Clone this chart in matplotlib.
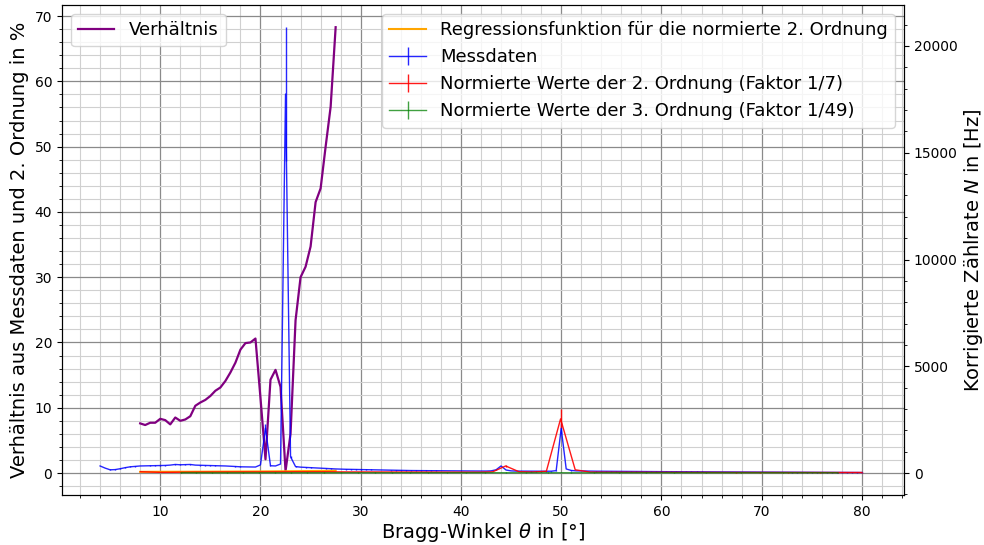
import numpy as np
import matplotlib
matplotlib.use("Agg")
import matplotlib.pyplot as plt

# Messdaten (Zaehlrate in Hz) auf dem Winkelraster 4..80 Grad, Schritt 0.5
theta_mess = np.arange(4.0, 80.5, 0.5)
n_mess = [
    330, 230, 150, 160, 200, 250, 290, 310, 330, 335,
    340, 345, 345, 355, 370, 400, 385, 395, 400, 370,
    360, 355, 350, 345, 335, 330, 320, 305, 290, 285,
    280, 280, 380, 2100, 340, 330, 420, 17750, 760, 300,
    275, 260, 250, 240, 230, 215, 200, 190, 180, 175,
    170, 165, 160, 155, 150, 145, 140, 135, 130, 125,
    120, 118, 115, 113, 110, 108, 105, 103, 100, 100,
    98, 97, 96, 95, 95, 94, 93, 92, 100, 150,
    330, 140, 100, 90, 88, 86, 85, 84, 83, 83,
    85, 110, 2090, 190, 120, 100, 95, 90, 88, 85,
    83, 80, 78, 76, 75, 73, 72, 70, 68, 67,
    66, 65, 64, 63, 62, 61, 60, 59, 58, 57,
    56, 55, 54, 53, 52, 51, 50, 49, 48, 47,
    46, 45, 44, 43, 42, 41, 40, 39, 38, 37,
    36, 35, 34, 33, 32, 31, 30, 29, 28, 27,
    26, 25, 24,
]
mess_err_default = 15
mess_err_theta = [20.5, 22.5, 23.0, 50.0]
mess_err_vals = [200, 3140, 60, 250]

# normierte 2. Ordnung (Faktor 1/7)
theta_2 = [8.02, 9.03, 10.04, 11.05, 12.07, 13.09, 14.11, 15.13, 16.16, 17.20,
           18.23, 19.27, 20.32, 21.38, 22.43, 23.50, 24.57, 25.65, 26.74, 27.83,
           28.93, 30.05, 31.17, 32.31, 33.45, 34.61, 35.79, 36.97, 38.17, 39.39,
           40.63, 41.88, 43.16, 44.46, 45.79, 47.14, 48.52, 49.94, 51.40, 52.90,
           54.44, 56.04, 57.69, 59.43, 61.25, 63.17, 65.23, 67.45, 69.88, 72.63,
           75.85, 79.99]
n_2 = [60, 45, 30, 32, 38, 42, 45, 47, 49, 50,
       51, 51, 51, 52, 53, 57, 55, 56, 57, 53,
       51, 51, 50, 49, 48, 47, 46, 44, 41, 41,
       40, 40, 54, 330, 60, 47, 80, 2536, 150, 43,
       39, 37, 36, 34, 33, 31, 29, 27, 26, 25,
       24, 24]
err_2_default = 5
err_2_theta = [44.46, 49.94]
err_2_vals = [30, 449]

# normierte 3. Ordnung (Faktor 1/49)
theta_3 = [12.08, 13.61, 15.16, 16.71, 18.27, 19.85, 21.44, 23.05, 24.68, 26.32,
           27.99, 29.68, 31.40, 33.14, 34.92, 36.73, 38.59, 40.49, 42.44, 44.45,
           46.53, 48.68, 50.93, 53.30, 55.79, 58.44, 61.29, 64.42, 67.97, 72.17,
           77.61]
n_3 = [12, 10, 8, 8, 9, 10, 11, 11, 12, 12,
       12, 12, 12, 12, 13, 13, 13, 13, 13, 12,
       12, 12, 12, 12, 12, 12, 11, 11, 11, 11,
       11]
err_3 = 25

# Regressionsfunktion und Verhaeltnis (8..27.5 Grad)
theta_reg = np.arange(8.0, 28.0, 0.5)
n_reg = [55, 55, 56, 56, 57, 57, 58, 58, 59, 59,
         60, 61, 61, 62, 63, 64, 65, 66, 67, 68,
         69, 70, 71, 72, 73, 75, 76, 78, 80, 82,
         84, 86, 88, 90, 92, 95, 98, 101, 104, 108]
verhaeltnis = [7.6, 7.35, 7.7, 7.7, 8.3, 8.1, 7.45, 8.5, 8.0, 8.2,
               8.7, 10.3, 10.8, 11.2, 11.8, 12.6, 13.1, 14.1, 15.4, 16.9,
               18.9, 19.9, 20.0, 20.6, 11.5, 2.1, 14.3, 15.8, 13.2, 0.3,
               6.0, 23.4, 30.0, 31.6, 34.7, 41.5, 43.6, 50.0, 56.1, 68.3]


def build_err(x, default, pos, vals):
    err = np.full(len(x), float(default))
    for p, v in zip(pos, vals):
        err[np.argmin(np.abs(np.asarray(x) - p))] = v
    return err


mess_err = build_err(theta_mess, mess_err_default, mess_err_theta, mess_err_vals)
err_2 = build_err(theta_2, err_2_default, err_2_theta, err_2_vals)

fig = plt.figure(figsize=(9.84, 5.45), dpi=100)
ax = fig.add_axes([62 / 984, 50 / 545, 842 / 984, 490 / 545])
ax2 = ax.twinx()

ax.plot(theta_reg, verhaeltnis, color='purple', lw=1.6, label='Verhältnis')

ax2.plot(theta_reg, n_reg, color='orange', lw=1.5,
         label='Regressionsfunktion für die normierte 2. Ordnung')
ax2.errorbar(theta_mess, n_mess, yerr=mess_err, color='blue', lw=1, alpha=0.85,
             label='Messdaten')
ax2.errorbar(theta_2, n_2, yerr=err_2, color='red', lw=1, alpha=0.9,
             label='Normierte Werte der 2. Ordnung (Faktor 1/7)')
ax2.errorbar(theta_3, n_3, yerr=err_3, color='green', lw=1, alpha=0.75,
             label='Normierte Werte der 3. Ordnung (Faktor 1/49)')

ax.set_xlim(0.2, 84.2)
ax.set_ylim(-3.37, 71.7)
ax2.set_ylim(-1030, 21920)

ax.minorticks_on()
ax2.minorticks_on()
ax.grid(which='major', color='#8a8a8a', lw=0.9)
ax.grid(which='minor', color='#d0d0d0', lw=0.8)
ax.set_axisbelow(True)

ax.tick_params(labelsize=10)
ax2.tick_params(labelsize=10)
ax.set_xlabel(r'Bragg-Winkel $\theta$ in [°]', fontsize=14, labelpad=2)
ax.set_ylabel('Verhältnis aus Messdaten und 2. Ordnung in %', fontsize=14)
ax2.set_ylabel(r'Korrigierte Zählrate $N$ in [Hz]', fontsize=14, labelpad=3)

ax.legend(loc='upper left', fontsize=13)
ax2.legend(loc='upper right', fontsize=13)

fig.savefig('out.png', dpi=100)
